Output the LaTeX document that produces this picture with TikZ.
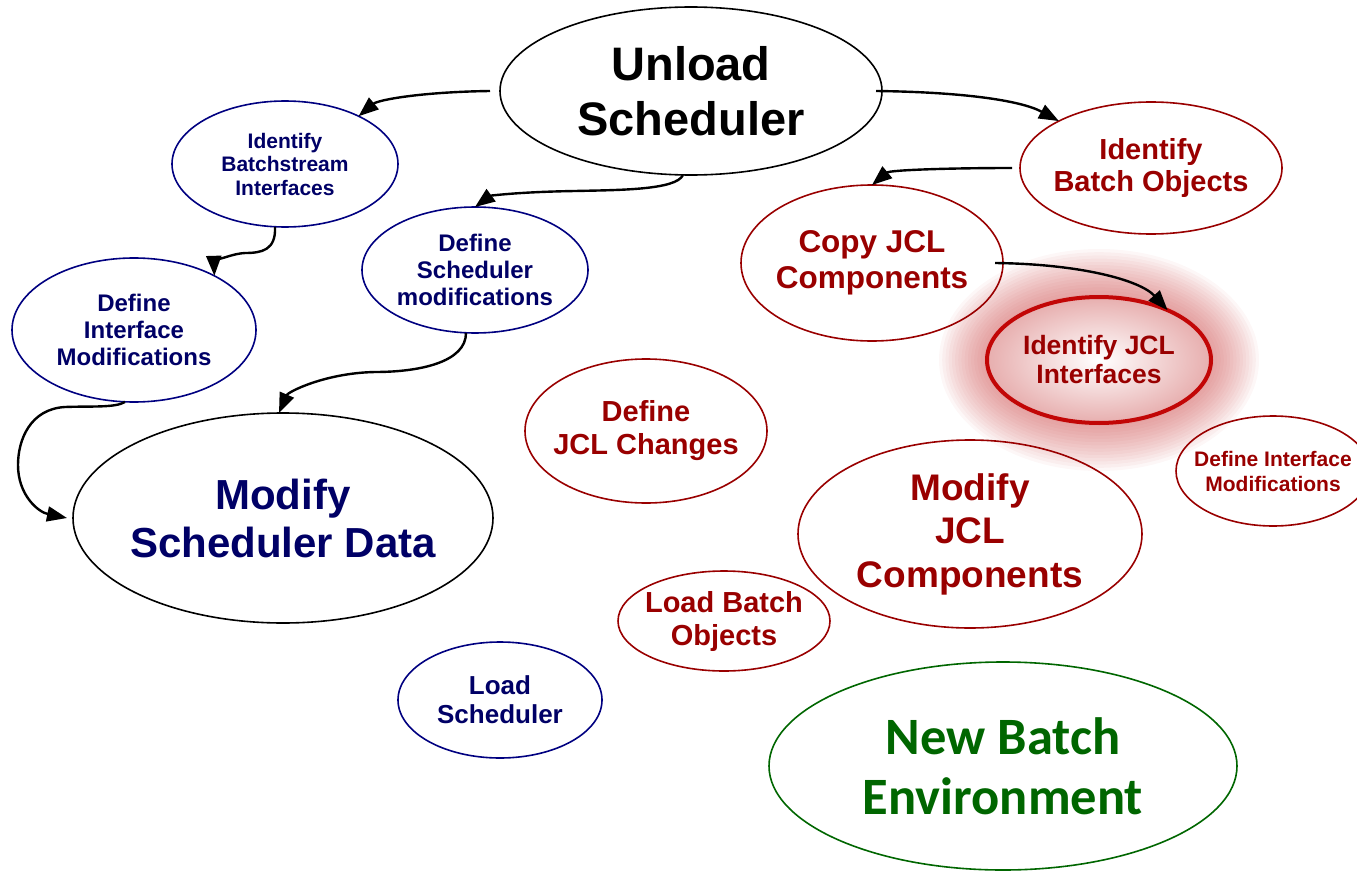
\documentclass[tikz,border=0pt]{standalone}
\usepackage{fontspec}
\setmainfont{Liberation Sans}
\newfontfamily\calib{Carlito}
\usetikzlibrary{shapes.geometric,arrows.meta}
\definecolor{navyc}{RGB}{0,0,102}
\definecolor{navyb}{RGB}{0,0,128}
\definecolor{dred}{RGB}{153,0,0}
\definecolor{dgreen}{RGB}{0,102,0}
\definecolor{glowc}{RGB}{200,60,60}
\definecolor{pinkc}{RGB}{231,174,174}
\definecolor{ijred}{RGB}{194,6,6}
\newcommand\myfs[2]{\fontsize{#1}{#2}\selectfont}
\tikzset{myarrow/.tip={Triangle[length=20pt 0 0,width=15pt 0 0]}}
\begin{document}
\begin{tikzpicture}[x=1pt,y=-1pt,
  ell/.style={ellipse, inner sep=0pt, outer sep=0pt, line width=1.6pt},
  txt/.style={align=center, inner sep=0pt},
  conn/.style={line width=2.4pt, -myarrow}]
\useasboundingbox (0,0) rectangle (1357,872);
% glow
\foreach \k in {1,...,15}
  \fill[glowc, opacity=0.045] (1099,360) ellipse ({112+3.2*\k} and {63+3.2*\k});
\shade[inner color=white, outer color=pinkc] (1099,360) ellipse (112 and 63);
% ellipses
\node[ell, draw=black, minimum width=382pt, minimum height=168pt] (us) at (691,91) {};
\node[ell, draw=navyb, minimum width=226pt, minimum height=126pt] (ib) at (285,164) {};
\node[ell, draw=navyb, minimum width=244pt, minimum height=144pt] (di) at (134,330) {};
\node[ell, draw=navyb, minimum width=226pt, minimum height=126pt] (ds) at (475,270) {};
\node[ell, draw=black, minimum width=420pt, minimum height=210pt] (msd) at (283,518) {};
\node[ell, draw=navyb, minimum width=204pt, minimum height=116pt] (ls) at (500,700) {};
\node[ell, draw=dred, minimum width=262pt, minimum height=132pt] (ibo) at (1151,168) {};
\node[ell, draw=dred, minimum width=262pt, minimum height=156pt] (cj) at (872,263) {};
\node[ell, draw=ijred, line width=4pt, minimum width=224pt, minimum height=126pt] (ij) at (1099,360) {};
\node[ell, draw=dred, minimum width=242pt, minimum height=144pt] (dj) at (646,431) {};
\node[ell, draw=dred, minimum width=194pt, minimum height=110pt] (dr) at (1273,471) {};
\node[ell, draw=dred, minimum width=344pt, minimum height=188pt] (mj) at (970,534) {};
\node[ell, draw=dred, minimum width=212pt, minimum height=100pt] (lb) at (724,621) {};
\node[ell, draw=dgreen, minimum width=468pt, minimum height=208pt] (nb) at (1003,766) {};
% connectors
\draw[conn] ([xshift=-10pt]us.west) .. controls (420,92) and (378,100) .. (ib.33);
\draw[conn] ([xshift=-6pt]us.east) .. controls (960,92) and (1020,100) .. (ibo.153);
\draw[conn] ([xshift=-8pt]us.south) .. controls (676,190) and (620,190) .. (575,191) .. controls (515,192) and (490,196) .. (ds.north);
\draw[conn] ([xshift=-8pt]ibo.west) .. controls (950,168) and (890,170) .. (cj.north);
\draw[conn] ([xshift=-8pt]cj.east) .. controls (1080,264) and (1140,280) .. (ij.36);
\draw[conn] ([xshift=-10pt]ib.south) .. controls (276,250) and (262,253) .. (245,253) .. controls (228,254) and (214,264) .. (di.34);
\draw[conn] ([xshift=-9pt]ds.south) .. controls (466,362) and (420,372) .. (375,372) .. controls (325,373) and (288,392) .. ([xshift=-4pt]msd.north);
\draw[conn] ([xshift=-9pt]di.south) .. controls (115,408) and (90,406) .. (65,407) .. controls (30,409) and (18,440) .. (18,465) .. controls (18,495) and (38,512) .. ([xshift=-6pt]msd.west);
% texts
\node[txt, text=black, font=\myfs{47}{55}\bfseries] (us-t) at (us) {Unload\\Scheduler};
\node[txt, text=navyc, font=\myfs{21}{23.5}\bfseries] (ib-t) at (ib) {Identify\\Batchstream\\Interfaces};
\node[txt, text=navyc, font=\myfs{24}{27}\bfseries] (di-t) at (di) {Define\\Interface\\Modifications};
\node[txt, text=navyc, font=\myfs{24}{27}\bfseries] (ds-t) at (ds) {Define\\Scheduler\\modifications};
\node[txt, text=navyc, font=\myfs{42}{48}\bfseries] (msd-t) at (msd) {Modify\\Scheduler Data};
\node[txt, text=navyc, font=\myfs{26}{29}\bfseries] (ls-t) at (ls) {Load\\Scheduler};
\node[txt, text=dred, font=\myfs{29}{32}\bfseries] (ibo-t) at (ibo) {Identify\\Batch Objects};
\node[txt, text=dred, font=\myfs{31.5}{36}\bfseries] (cj-t) at (cj) {Copy JCL\\Components};
\node[txt, text=dred, font=\myfs{26.5}{29}\bfseries] (ij-t) at (ij) {Identify JCL\\Interfaces};
\node[txt, text=dred, font=\myfs{29}{33}\bfseries] (dj-t) at (dj) {Define\\JCL Changes};
\node[txt, text=dred, font=\myfs{21}{25}\bfseries] (dr-t) at (dr) {Define Interface\\Modifications};
\node[txt, text=dred, font=\myfs{37}{43.5}\bfseries] (mj-t) at (mj) {Modify\\JCL\\Components};
\node[txt, text=dred, font=\myfs{29}{33}\bfseries] (lb-t) at (lb) {Load Batch\\Objects};
\node[txt, text=dgreen, font=\calib\myfs{52.5}{60}\bfseries] (nb-t) at (nb) {New Batch\\Environment};
\end{tikzpicture}
\end{document}
